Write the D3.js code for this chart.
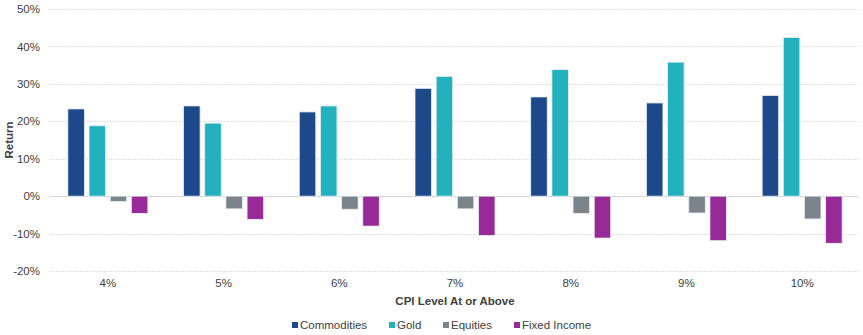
<!DOCTYPE html>
<html lang="en">
<head>
    <meta charset="UTF-8">
    <script src="https://cdn.jsdelivr.net/npm/d3@7"></script>
    <title>Asset Returns by CPI Level</title>
    <style>
        html,
        body {
            margin: 0px;
            padding: 0px;
            background-color: #ffffff;
            font-family: "Liberation Sans", Arial, sans-serif;
            color: #404040;
        }
    </style>
</head>
<body>
    <div id='chart'></div>
    <script>

        const cpiLevels = ['4%', '5%', '6%', '7%', '8%', '9%', '10%'];
        const seriesNames = ['Commodities', 'Gold', 'Equities', 'Fixed Income'];
        const commodities = [23.3, 24.1, 22.5, 28.8, 26.5, 24.9, 26.9];
        const gold = [18.8, 19.5, 24.1, 32.0, 33.8, 35.8, 42.4];
        const equities = [-1.4, -3.4, -3.5, -3.4, -4.6, -4.5, -6.1];
        const fixedIncome = [-4.6, -6.2, -8.0, -10.5, -11.2, -11.9, -12.6];
        const yTicks = [-20, -10, 0, 10, 20, 30, 40, 50];

        const seriesValues = [commodities, gold, equities, fixedIncome];
        const colors = ['#1d4889', '#23b2bd', '#7c848b', '#982a97'];

        let width = 863;
        let height = 335;
        let margin = {top: 9, right: 3, bottom: 64, left: 50};

        let svg = d3.select('#chart').append('svg')
            .attr('width', width)
            .attr('height', height);

        let x = d3.scaleBand()
            .domain(cpiLevels)
            .range([margin.left, width - margin.right]);

        let xInner = d3.scaleBand()
            .domain(seriesNames)
            .range([-40, 40])
            .paddingInner(0.22);

        let y = d3.scaleLinear()
            .domain([-20, 50])
            .range([height - margin.bottom, margin.top]);

        // dotted grid lines, solid line at zero
        svg.append('g')
            .selectAll('line')
            .data(yTicks)
            .join('line')
            .attr('x1', margin.left)
            .attr('x2', width - 5)
            .attr('y1', d => Math.round(y(d)) + 0.5)
            .attr('y2', d => Math.round(y(d)) + 0.5)
            .attr('stroke', d => d === 0 ? '#d4d4d4' : '#d6d6d6')
            .attr('stroke-width', 1)
            .attr('stroke-dasharray', d => d === 0 ? null : '1.5,1.5');

        let yAxis = d3.axisLeft(y)
            .tickValues(yTicks)
            .tickFormat(d => d + '%')
            .tickSize(0)
            .tickPadding(10);

        svg.append('g')
            .attr('transform', `translate(${margin.left},0)`)
            .call(yAxis)
            .call(g => g.select('.domain').remove())
            .selectAll('text')
            .attr('font-size', '11.5px')
            .attr('font-family', '"Liberation Sans", Arial, sans-serif')
            .attr('fill', '#404040');

        let xAxis = d3.axisBottom(x).tickSize(0).tickPadding(0);

        svg.append('g')
            .attr('transform', `translate(0,${y(-20) + 8})`)
            .call(xAxis)
            .call(g => g.select('.domain').remove())
            .selectAll('text')
            .attr('font-size', '11.5px')
            .attr('font-family', '"Liberation Sans", Arial, sans-serif')
            .attr('fill', '#404040');

        // bars
        let groups = svg.append('g')
            .selectAll('g')
            .data(cpiLevels)
            .join('g')
            .attr('transform', d => `translate(${x(d) + x.bandwidth() / 2},0)`);

        groups.selectAll('rect')
            .data((d, i) => seriesNames.map((s, j) => ({series: s, value: seriesValues[j][i], color: colors[j]})))
            .join('rect')
            .attr('x', d => xInner(d.series))
            .attr('width', xInner.bandwidth())
            .attr('y', d => y(Math.max(0, d.value)))
            .attr('height', d => Math.abs(y(d.value) - y(0)))
            .attr('fill', d => d.color)
            .attr('stroke', '#e8eef4')
            .attr('stroke-width', 0.8);

        // axis titles
        svg.append('text')
            .attr('x', x(cpiLevels[3]) + x.bandwidth() / 2)
            .attr('y', 305)
            .attr('text-anchor', 'middle')
            .attr('font-size', '11.5px')
            .attr('font-weight', 'bold')
            .attr('fill', '#404040')
            .text('CPI Level At or Above');

        svg.append('text')
            .attr('transform', `translate(13,${y(15)}) rotate(-90)`)
            .attr('text-anchor', 'middle')
            .attr('font-size', '11.5px')
            .attr('font-weight', 'bold')
            .attr('fill', '#404040')
            .text('Return');

        // legend
        let legendX = [292, 389, 443, 514];
        let legend = svg.append('g')
            .selectAll('g')
            .data(seriesNames)
            .join('g')
            .attr('transform', (d, i) => `translate(${legendX[i]},325)`);

        legend.append('rect')
            .attr('x', 0)
            .attr('y', -3)
            .attr('width', 6)
            .attr('height', 6)
            .attr('fill', (d, i) => colors[i]);

        legend.append('text')
            .attr('x', 8)
            .attr('y', 4)
            .attr('font-size', '11.5px')
            .attr('fill', '#404040')
            .text(d => d);

    </script>
</body>
</html>
